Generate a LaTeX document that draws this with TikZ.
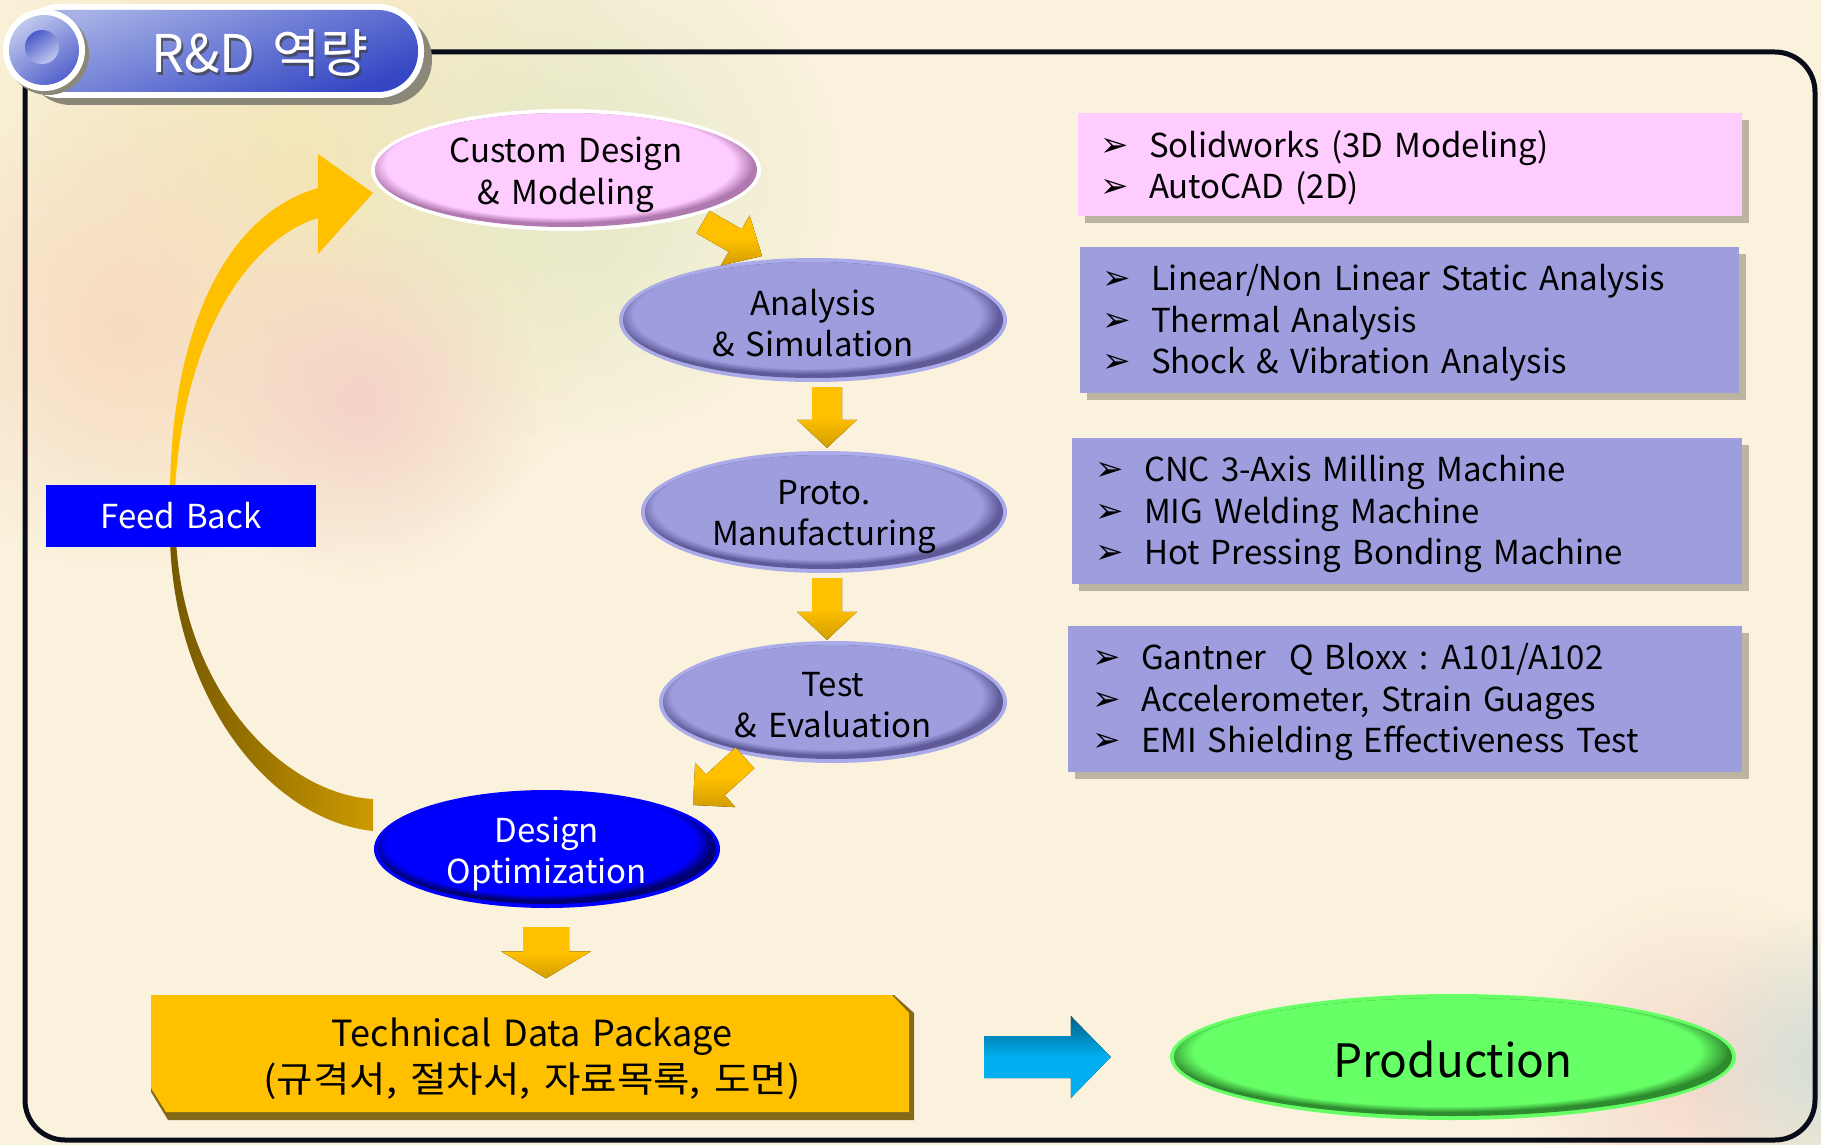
\documentclass[tikz,border=0pt]{standalone}
\usepackage{fontspec}
\setmainfont{Noto Sans CJK KR}[WordSpace=1.5]
\newfontfamily\bulletfont{DejaVu Sans}
\usetikzlibrary{calc,shadows,fadings,shapes.geometric}
\definecolor{bg}{HTML}{FAF2DC}
\definecolor{framec}{HTML}{080C18}
\definecolor{pinkc}{HTML}{FFCCFF}
\definecolor{pinkdk}{HTML}{B07AB0}
\definecolor{purc}{HTML}{9E9DDE}
\definecolor{purrim}{HTML}{ACABEA}
\definecolor{purdk}{HTML}{5F5B99}
\definecolor{bluec}{HTML}{0000FF}
\definecolor{bluedk}{HTML}{000070}
\definecolor{greenc}{HTML}{66FF66}
\definecolor{greendk}{HTML}{2E8B2E}
\definecolor{goldc}{HTML}{FFC000}
\definecolor{golddk}{HTML}{765800}
\definecolor{goldmid}{HTML}{CC9A00}
\definecolor{cyanc}{HTML}{00B0F0}
\definecolor{cyandk}{HTML}{005E86}
\definecolor{shadowc}{HTML}{6E6A58}
\definecolor{pillL}{HTML}{A6B2E6}
\definecolor{pillD}{HTML}{3547C4}
\definecolor{blobY}{HTML}{F1E2AE}
\definecolor{blobG}{HTML}{E0E8C4}
\definecolor{blobP}{HTML}{F8D6BE}
\definecolor{blobR}{HTML}{F4CFC6}
\definecolor{blobT}{HTML}{C9DCD6}
\tikzfading[name=softblob, inner color=transparent!0, outer color=transparent!100]
\newcommand\rfont{\fontsize{33pt}{41.5pt}\selectfont}
\newcommand\efont{\fontsize{33pt}{41.5pt}\selectfont}
\newcommand\bul{\makebox[49pt][l]{\bulletfont\fontsize{34pt}{34pt}\selectfont\raisebox{1pt}{➢}}}
\newcommand\fancyell[6]{%
  \fill[#4] #1 ellipse[x radius={#2*1pt}, y radius={#3*1pt}];
  \begin{scope}
    \clip #1 ellipse[x radius={(#2-4)*1pt}, y radius={(#3-4)*1pt}];
    \fill[#6] #1 ellipse[x radius={#2*1pt}, y radius={#3*1pt}];
    \fill[#5, path fading=circle with fuzzy edge 10 percent] ($#1+(-6,-6)$) ellipse[x radius={(#2-2)*1pt}, y radius={(#3-2)*1pt}];
  \end{scope}}
\newcommand\blockarrow[6]{%
  \coordinate (baH) at ($(#3)!#6!(#2)$);
  \fill[#1] ($(#2)!#4!90:(#3)$) -- ($(baH)!#4!90:(#3)$) -- ($(baH)!#5!90:(#3)$) -- (#3) -- ($(baH)!#5!-90:(#3)$) -- ($(baH)!#4!-90:(#3)$) -- ($(#2)!#4!-90:(#3)$) -- cycle;}
\tikzset{
  rbox/.style={rectangle, inner sep=0pt,
    drop shadow={shadow xshift=7pt, shadow yshift=-7pt, opacity=.45, fill=shadowc}},
  rtext/.style={anchor=west, inner sep=0pt, align=left, font=\rfont},
  ellnode/.style={ellipse, inner sep=0pt, align=center, font=\efont},
  goldarrow/.style={top color=goldc, bottom color=goldc!82!black, middle color=goldc},
}
\begin{document}
\begin{tikzpicture}[x=1pt,y=-1pt]
\useasboundingbox (0,0) rectangle (1821,1145);
\fill[bg] (0,0) rectangle (1821,1145);
% soft background blobs
\fill[blobY, opacity=.8, path fading=softblob] (300,170) circle (380pt);
\fill[blobG, opacity=.8, path fading=softblob] (580,180) circle (260pt);
\fill[blobP, opacity=.8, path fading=softblob] (120,330) circle (240pt);
\fill[blobR, opacity=.9, path fading=softblob] (360,400) circle (180pt);
\fill[blobR, opacity=.7, path fading=softblob] (1700,1080) circle (190pt);
\fill[blobT, opacity=.8, path fading=softblob] (1830,1060) circle (150pt);
% frame
\draw[framec, line width=5pt, rounded corners=40pt] (25,52) rectangle (1815,1140);
% title pill
\fill[shadowc!80] (26,14) [rounded corners=45pt] rectangle (432,105);
\fill[white, rounded corners=46pt] (14,4) rectangle (424,98);
\shade[top color=pillL, bottom color=pillD, shading angle=20, rounded corners=40pt] (20,10) rectangle (418,92);
\fill[shadowc!80] (48,54) circle (41pt);
\fill[white] (44,50) circle (41pt);
\shade[top color=pillL!70!white, bottom color=pillD!85!white, shading angle=35] (44,50) circle (35pt);
\shade[top color=pillD!90!white, bottom color=pillL!70!white, shading angle=35] (42,47) circle (17pt);
\node[text=black!75, opacity=.7, font=\fontsize{52pt}{60pt}\selectfont] at (262,56) {R\&D 역량};
\node[text=white, font=\fontsize{52pt}{60pt}\selectfont] (title) at (260,53) {R\&D 역량};
% feedback curve
\fill[goldc] (170,490) .. controls (172,330) and (225,215) .. (318,188) -- (318,154) -- (373,193) -- (318,254) -- (318,218) .. controls (258,236) and (185,320) .. (175,490) -- cycle;
\shade[left color=golddk, right color=goldmid] (170,540) .. controls (175,700) and (270,820) .. (373,831) -- (373,799) .. controls (290,795) and (185,700) .. (176,540) -- cycle;
% ellipse decorations
\fancyell{(566,170)}{195}{61}{white}{pinkc}{pinkdk}
\fancyell{(813,320)}{194}{62}{purrim}{purc}{purdk}
\fancyell{(824,512)}{183}{61}{purrim}{purc}{purdk}
\fancyell{(833,702)}{174}{61}{purrim}{purc}{purdk}
\fancyell{(547,849)}{173}{59}{bluec}{bluec}{bluedk}
\fancyell{(1453,1057)}{283}{63}{greenc}{greenc}{greendk}
% ellipse nodes (text centred slightly low, as in the reference)
\node[ellnode, minimum width=390pt, minimum height=122pt] (cd) at (566,175) {Custom Design\\\& Modeling};
\node[ellnode, minimum width=388pt, minimum height=124pt] (ana) at (813,323) {Analysis\\\& Simulation};
\node[ellnode, minimum width=366pt, minimum height=122pt] (pro) at (824,517) {Proto.\\Manufacturing};
\node[ellnode, minimum width=348pt, minimum height=122pt] (tst) at (833,705) {Test\\\& Evaluation};
\node[ellnode, text=white, minimum width=346pt, minimum height=118pt] (opt) at (547,854) {Design\\Optimization};
\node[ellnode, minimum width=566pt, minimum height=126pt, font=\fontsize{46pt}{56pt}\selectfont] (prod) at (1453,1059) {Production};
% feed back box
\node[fill=bluec, text=white, minimum width=270pt, minimum height=62pt, font=\fontsize{33pt}{40pt}\selectfont] (fb) at (181,516) {Feed Back};
% TDP box
\fill[golddk!90] (151,995) -- (894,995) -- (914,1013) -- (914,1120) -- (168,1120) -- (151,1092) -- cycle;
\fill[goldc] (151,995) -- (892,995) -- (909,1013) -- (909,1112) -- (166,1112) -- (151,1088) -- cycle;
\node[minimum width=763pt, minimum height=125pt, align=center, font=\fontsize{36pt}{46pt}\selectfont] (tdp) at (532,1059) {Technical Data Package\\\scalebox{1.1}[1]{(규격서, 절차서, 자료목록, 도면)}};
% right boxes
\node[rbox, fill=pinkc, minimum width=664pt, minimum height=103pt] (r1) at (1410,164.5) {};
\node[rbox, fill=purc, minimum width=659pt, minimum height=146pt] (r2) at (1409.5,320) {};
\node[rbox, fill=purc, minimum width=670pt, minimum height=146pt] (r3) at (1407,511) {};
\node[rbox, fill=purc, minimum width=674pt, minimum height=146pt] (r4) at (1405,699) {};
\node[rtext] (r1t) at ($(r1.west)+(22,3)$) {\bul Solidworks (3D Modeling)\\\bul AutoCAD (2D)};
\node[rtext] (r2t) at ($(r2.west)+(22,3)$) {\bul Linear/Non Linear Static Analysis\\\bul Thermal Analysis\\\bul Shock \& Vibration Analysis};
\node[rtext] (r3t) at ($(r3.west)+(23,3)$) {\bul CNC 3-Axis Milling Machine\\\bul MIG Welding Machine\\\bul Hot Pressing Bonding Machine};
\node[rtext] (r4t) at ($(r4.west)+(24,3)$) {\bul Gantner\hspace{12pt} Q Bloxx : A101/A102\\\bul Accelerometer, Strain Guages\\\bul EMI Shielding Effectiveness Test};
% block arrows
\coordinate (a1s) at (703,222); \coordinate (a1t) at (762,256);
\coordinate (a2s) at ($(ana.south)+(14,2)$); \coordinate (a2t) at ($(pro.north)+(3,-8)$);
\coordinate (a3s) at ($(pro.south)+(3,0)$); \coordinate (a3t) at ($(tst.north)+(-6,-4)$);
\coordinate (a4s) at (745,758); \coordinate (a4t) at (693,805);
\coordinate (a5s) at ($(opt.south)+(-1,14)$); \coordinate (a5t) at ($(tdp.north)+(14,-18)$);
\coordinate (a6s) at ($(tdp.east)+(71,-2)$); \coordinate (a6t) at ($(prod.west)+(-59,-2)$);
\blockarrow{goldarrow}{a1s}{a1t}{13pt}{29pt}{31pt}
\blockarrow{goldarrow}{a2s}{a2t}{15pt}{30pt}{28pt}
\blockarrow{goldarrow}{a3s}{a3t}{15pt}{30pt}{28pt}
\blockarrow{goldarrow}{a4s}{a4t}{14pt}{30pt}{30pt}
\blockarrow{goldarrow}{a5s}{a5t}{23pt}{45pt}{27pt}
\blockarrow{top color=cyandk, bottom color=cyanc, middle color=cyanc}{a6s}{a6t}{21pt}{41pt}{40pt}
\end{tikzpicture}
\end{document}
